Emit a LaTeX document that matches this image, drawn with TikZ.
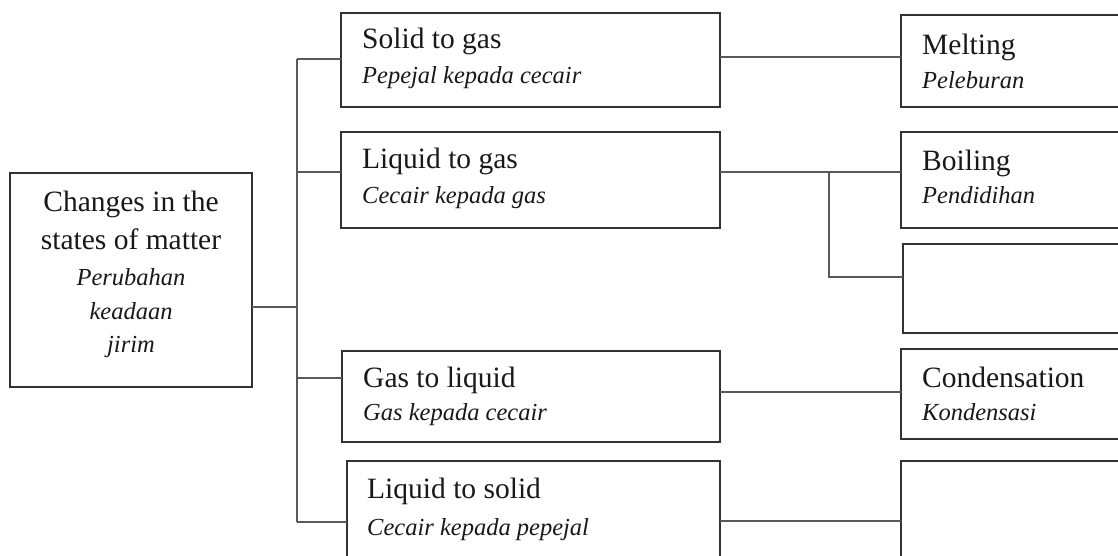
\documentclass[tikz,border=0pt]{standalone}
\usepackage{fontspec}
\setmainfont{Liberation Serif}
\begin{document}
\begin{tikzpicture}[x=1pt,y=-1pt,
  box/.style={draw=black!80, line width=1.6pt, inner sep=0pt, outer sep=0pt, anchor=north west},
  conn/.style={draw=black!65, line width=1.4pt},
  maintxt/.style={font=\fontsize{29.5}{31}\selectfont, text=black!90, inner sep=0pt},
  ittxt/.style={font=\fontsize{24.5}{26}\selectfont\itshape, text=black!90, inner sep=0pt}]
\useasboundingbox (0,0) rectangle (1118,555);
\clip (0,0) rectangle (1118,555);
\fill[white] (0,0) rectangle (1118,555);
% boxes
\node[box, minimum width=242pt, minimum height=214pt] (L) at (10,173) {};
\node[box, minimum width=379pt, minimum height=94pt] (A) at (341,13) {};
\node[box, minimum width=379pt, minimum height=96pt] (B) at (341,132) {};
\node[box, minimum width=378pt, minimum height=91pt] (C) at (342,351) {};
\node[box, minimum width=373pt, minimum height=110pt] (D) at (347,461) {};
\node[box, minimum width=230pt, minimum height=92pt] (M) at (901,15) {};
\node[box, minimum width=230pt, minimum height=96pt] (Bo) at (901,132) {};
\node[box, minimum width=228pt, minimum height=89pt] (E1) at (903,244) {};
\node[box, minimum width=230pt, minimum height=90pt] (Co) at (901,349) {};
\node[box, minimum width=230pt, minimum height=110pt] (E2) at (901,461) {};
% texts
\node[maintxt, anchor=base] (L1) at (131,211) {Changes in the};
\node[maintxt, anchor=base] (L2) at (131,249) {states of matter};
\node[ittxt, anchor=base] (L3) at (131,285) {Perubahan};
\node[ittxt, anchor=base] (L4) at (131,319) {keadaan};
\node[ittxt, anchor=base] (L5) at (131,352) {jirim};
\node[maintxt, anchor=base west] (A1) at (362,48) {Solid to gas};
\node[ittxt, anchor=base west] (A2) at (362,83) {Pepejal kepada cecair};
\node[maintxt, anchor=base west] (B1) at (362,168) {Liquid to gas};
\node[ittxt, anchor=base west] (B2) at (362,203) {Cecair kepada gas};
\node[maintxt, anchor=base west] (C1) at (363,387) {Gas to liquid};
\node[ittxt, anchor=base west] (C2) at (363,420) {Gas kepada cecair};
\node[maintxt, anchor=base west] (D1) at (367,498) {Liquid to solid};
\node[ittxt, anchor=base west] (D2) at (367,535) {Cecair kepada pepejal};
\node[maintxt, anchor=base west] (M1) at (922,54) {Melting};
\node[ittxt, anchor=base west] (M2) at (922,88) {Peleburan};
\node[maintxt, anchor=base west] (Bo1) at (922,170) {Boiling};
\node[ittxt, anchor=base west] (Bo2) at (922,203) {Pendidihan};
\node[maintxt, anchor=base west] (Co1) at (922,387) {Condensation};
\node[ittxt, anchor=base west] (Co2) at (922,420) {Kondensasi};
% connector coordinates
\coordinate (j) at (297,307);
\coordinate (tA) at (297,59);
\coordinate (tB) at (297,172);
\coordinate (tC) at (297,378);
\coordinate (tD) at (297,522);
\coordinate (yAM) at (0,57);
\coordinate (yBB) at (0,172);
\coordinate (br) at (829,172);
\coordinate (yE1) at (0,277);
\coordinate (yCC) at (0,392);
\coordinate (yDE) at (0,521);
% connectors
\draw[conn] (L.east |- j) -- (j);
\draw[conn] (tA) -- (tD);
\draw[conn] (tA) -- (tA -| A.west);
\draw[conn] (tB) -- (tB -| B.west);
\draw[conn] (tC) -- (tC -| C.west);
\draw[conn] (tD) -- (tD -| D.west);
\draw[conn] (A.east |- yAM) -- (M.west |- yAM);
\draw[conn] (B.east |- yBB) -- (Bo.west |- yBB);
\draw[conn] (br) |- (E1.west |- yE1);
\draw[conn] (C.east |- yCC) -- (Co.west |- yCC);
\draw[conn] (D.east |- yDE) -- (E2.west |- yDE);
\end{tikzpicture}
\end{document}
